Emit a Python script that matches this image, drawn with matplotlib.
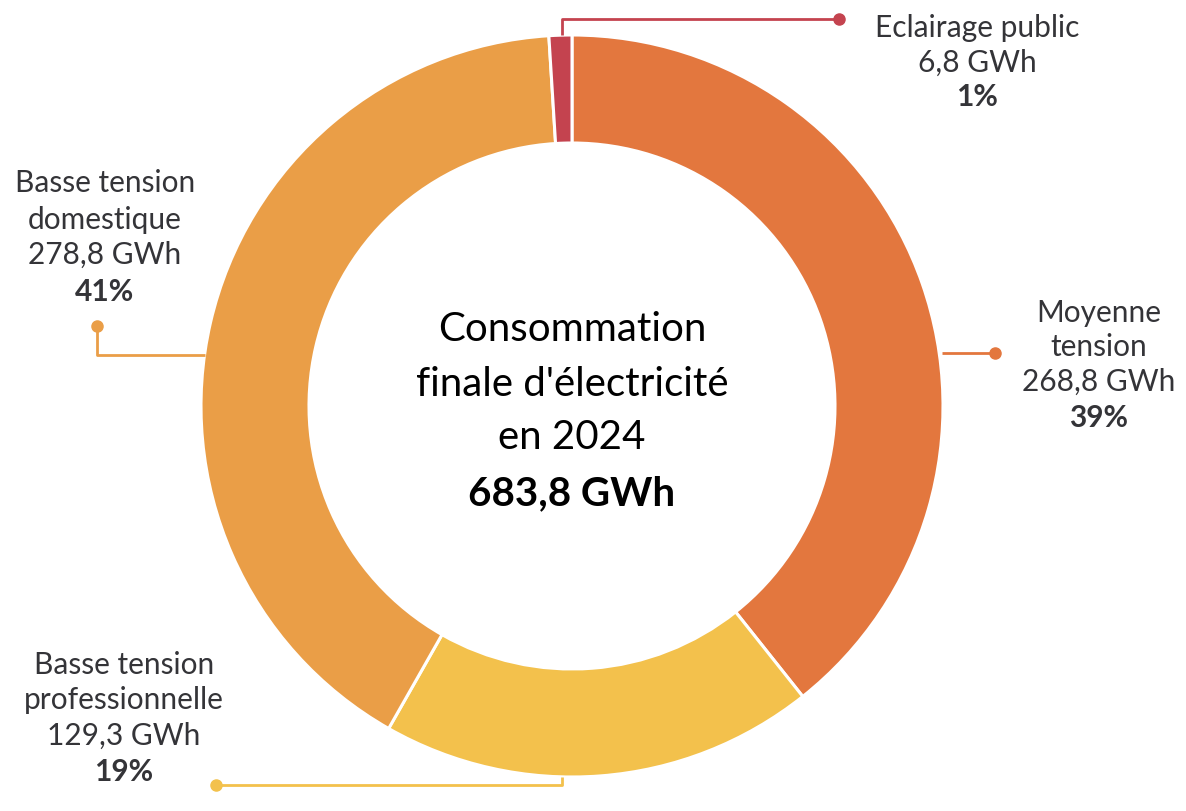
import matplotlib
matplotlib.use("Agg")
import matplotlib.pyplot as plt

# Data (order: clockwise from top)
categories = ["Moyenne\ntension", "Basse tension\nprofessionnelle", "Basse tension\ndomestique", "Eclairage public"]
values_gwh = [268.8, 129.3, 278.8, 6.8]
value_labels = ["268,8 GWh", "129,3 GWh", "278,8 GWh", "6,8 GWh"]
pct_labels = ["39%", "19%", "41%", "1%"]
colors = ["#E3773E", "#F3C14C", "#EA9E47", "#C4434F"]
center_lines = ["Consommation", "finale d'électricité", "en 2024"]
center_total = "683,8 GWh"

W, H = 1186, 812
fig = plt.figure(figsize=(W / 100, H / 100), dpi=100)
ax = fig.add_axes([0, 0, 1, 1])
ax.set_xlim(0, W)
ax.set_ylim(0, H)
ax.set_aspect("equal")
ax.axis("off")

def Y(y):
    return H - y

cx, cy, R, w = 572, Y(407), 371, 108
ax.pie(values_gwh, colors=colors, startangle=90, counterclock=False,
       center=(cx, cy), radius=R,
       wedgeprops=dict(width=w, edgecolor="white", linewidth=2.2))
ax.set_xlim(0, W)
ax.set_ylim(0, H)

txt = "#343438"
lfont = "Lato"
fs = 21.5

# leader lines (image px coords)
leaders = [
    ([942, 995], [354, 354]),                  # Moyenne
    ([562, 562, 216], [778, 786, 786]),        # pro
    ([205, 97, 97], [356, 356, 327]),          # dom
    ([562, 562, 839], [36, 20, 20]),           # eclairage
]
for (xs, ys), c in zip(leaders, colors):
    ax.plot(xs, [Y(v) for v in ys], color=c, lw=2, solid_capstyle="butt")
    ax.plot(xs[-1], Y(ys[-1]), "o", color=c, ms=8)

# label blocks: (center x, y of each line)
label_pos = [
    (1099, [313, 347, 382, 418]),
    (124, [665, 700, 736, 772]),
    (105, [183, 220, 255, 292]),
    (977, [28, 63, 97]),
]
for cat, vl, pl, (lx, ys) in zip(categories, value_labels, pct_labels, label_pos):
    lines = cat.split("\n") + [vl]
    for s, y in zip(lines, ys[:-1]):
        ax.text(lx, Y(y), s, ha="center", va="center", fontsize=fs,
                family=lfont, color=txt)
    ax.text(lx, Y(ys[-1]), pl, ha="center", va="center", fontsize=fs,
            family=lfont, fontweight="bold", color=txt)

cfs = 29
for s, y in zip(center_lines, [330, 385, 438]):
    ax.text(cx, Y(y), s, ha="center", va="center", fontsize=cfs,
            family="Lato", color="black")
ax.text(cx, Y(494), center_total, ha="center", va="center", fontsize=cfs,
        family="Lato", fontweight="bold", color="black")

fig.savefig("out.png", dpi=100, facecolor="white")
